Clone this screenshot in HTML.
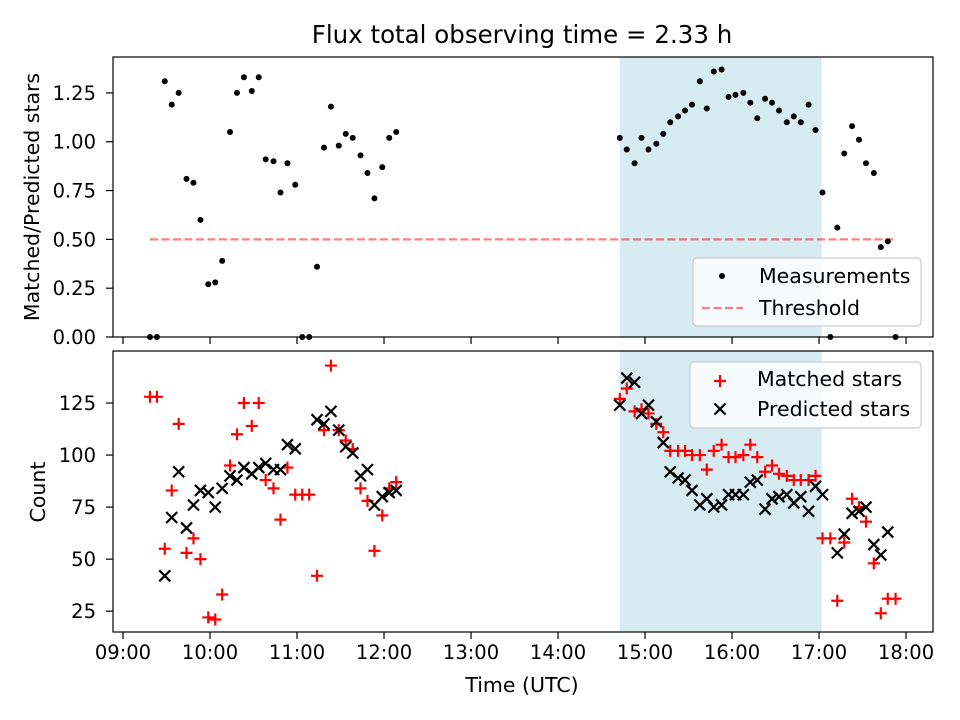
<!DOCTYPE html>
<html><head><meta charset="utf-8"><style>
body{margin:0;background:#fff;}
svg{display:block;font-family:"DejaVu Sans","Liberation Sans",sans-serif;}
</style></head><body>
<svg id="chart" width="960" height="720" viewBox="0 0 960 720" xmlns="http://www.w3.org/2000/svg"></svg>
<script>
// ---- data ----
const times = [9.31,9.39,9.48,9.56,9.64,9.73,9.81,9.89,9.98,10.06,10.14,10.23,10.31,10.39,10.48,10.56,10.64,10.73,10.81,10.89,10.98,11.06,11.14,11.23,11.31,11.39,11.48,11.56,11.64,11.73,11.81,11.89,11.98,12.06,12.14,
14.71,14.79,14.88,14.96,15.04,15.13,15.21,15.29,15.38,15.46,15.54,15.63,15.71,15.79,15.88,15.96,16.04,16.13,16.21,16.29,16.38,16.46,16.54,16.63,16.71,16.79,16.88,16.96,17.04,17.13,17.21,17.29,17.38,17.46,17.54,17.63,17.71,17.79,17.88];
const ratio = [0,0,1.31,1.19,1.25,0.81,0.79,0.60,0.27,0.28,0.39,1.05,1.25,1.33,1.26,1.33,0.91,0.90,0.74,0.89,0.78,0,0,0.36,0.97,1.18,0.98,1.04,1.02,0.93,0.84,0.71,0.87,1.02,1.05,
1.02,0.96,0.89,1.02,0.96,0.99,1.04,1.10,1.13,1.16,1.19,1.31,1.17,1.36,1.37,1.23,1.24,1.25,1.20,1.12,1.22,1.20,1.16,1.10,1.13,1.10,1.19,1.06,0.74,0,0.56,0.94,1.08,1.01,0.89,0.84,0.46,0.49,0];
const matched = [128,128,55,83,115,53,60,50,22,21,33,95,110,125,114,125,88,84,69,94,81,81,81,42,112,143,112,107,103,84,78,54,71,84,87,
127,132,121,122,120,115,111,102,102,102,100,100,93,102,105,99,99,100,105,99,92,95,91,90,88,88,88,90,60,60,30,58,79,75,68,48,24,31,31];
const predicted = [null,null,42,70,92,65,76,83,82,75,84,90,88,94,91,94,96,93,93,105,103,null,null,117,115,121,112,104,101,90,93,76,80,82,83,
124,137,135,120,124,116,106,92,89,88,83,76,79,75,76,81,81,81,87,88,74,79,80,81,77,80,73,85,81,null,53,62,72,73,75,57,52,63,null];
const thresholdValue = 0.5;
const thresholdRange = [9.31, 17.85];
const shadeRange = [14.71, 17.03];
const xTickHours = [9,10,11,12,13,14,15,16,17,18];
const xTickLabels = ["09:00","10:00","11:00","12:00","13:00","14:00","15:00","16:00","17:00","18:00"];
const topTicks = [0,0.25,0.5,0.75,1.0,1.25];
const topTickLabels = ["0.00","0.25","0.50","0.75","1.00","1.25"];
const botTicks = [25,50,75,100,125];
const botTickLabels = ["25","50","75","100","125"];

// ---- axes ----
const L=113,R=933, T1=57,B1=337, T2=351,B2=632;
const xMin=8.885,xMax=18.31;
const X=h=>L+(h-xMin)/(xMax-xMin)*(R-L);
const Y1=v=>B1-(v-0)/(1.434-0)*(B1-T1);
const Y2=v=>B2-(v-15)/(150-15)*(B2-T2);
const svg=document.getElementById('chart');
const NS='http://www.w3.org/2000/svg';
const FS=19.5;
function mk(tag,attrs,parent){const e=document.createElementNS(NS,tag);for(const k in attrs)e.setAttribute(k,attrs[k]);(parent||svg).appendChild(e);return e;}
function txt(s,attrs){const e=mk('text',attrs);e.textContent=s;return e;}

let sh=mk('rect',{x:X(shadeRange[0]),y:T1,width:X(shadeRange[1])-X(shadeRange[0]),height:B1-T1,fill:'#add8e6',opacity:0.5});


sh=mk('rect',{x:X(shadeRange[0]),y:T2,width:X(shadeRange[1])-X(shadeRange[0]),height:B2-T2,fill:'#add8e6',opacity:0.5});



let th=mk('line',{x1:X(thresholdRange[0]),x2:X(thresholdRange[1]),y1:Y1(thresholdValue),y2:Y1(thresholdValue),stroke:'#ff0000','stroke-opacity':0.5,'stroke-width':2.2,'stroke-dasharray':'8,3.5'});



times.forEach((t,i)=>{
  const c=mk('circle',{cx:X(t),cy:Y1(ratio[i]),r:3,fill:'#000'});
  
  
});
times.forEach((t,i)=>{
  const x=X(t),y=Y2(matched[i]),s=6;
  const g=mk('path',{d:`M${x-s},${y}H${x+s}M${x},${y-s}V${y+s}`,stroke:'#ff0000','stroke-width':2.2,fill:'none'});
  
  
});
times.forEach((t,i)=>{
  if(predicted[i]===null)return;
  const x=X(t),y=Y2(predicted[i]),s=5.5;
  const g=mk('path',{d:`M${x-s},${y-s}L${x+s},${y+s}M${x-s},${y+s}L${x+s},${y-s}`,stroke:'#000','stroke-width':2.2,fill:'none'});
  
  
});

[[T1,B1,'top-axes-frame'],[T2,B2,'bottom-axes-frame']].forEach(([t,b,n])=>{
  const r=mk('rect',{x:L,y:t,width:R-L,height:b-t,fill:'none',stroke:'#000','stroke-width':1.2});
  
  
});
xTickHours.forEach((h,i)=>{
  const x=X(h);
  mk('line',{x1:x,x2:x,y1:B1,y2:B1+7,stroke:'#000','stroke-width':1.2});
  mk('line',{x1:x,x2:x,y1:B2,y2:B2+7,stroke:'#000','stroke-width':1.2});
  const l=txt(xTickLabels[i],{x:x,y:B2+27,'text-anchor':'middle','font-size':FS});
  
  
});
topTicks.forEach((v,i)=>{
  const y=Y1(v);
  mk('line',{x1:L-7,x2:L,y1:y,y2:y,stroke:'#000','stroke-width':1.2});
  const l=txt(topTickLabels[i],{x:L-17,y:y+7,'text-anchor':'end','font-size':FS});
  
  
});
botTicks.forEach((v,i)=>{
  const y=Y2(v);
  mk('line',{x1:L-7,x2:L,y1:y,y2:y,stroke:'#000','stroke-width':1.2});
  const l=txt(botTickLabels[i],{x:L-17,y:y+7,'text-anchor':'end','font-size':FS});
  
  
});
</script>
<svg style="position:absolute;left:0;top:0" width="960" height="720" font-family="DejaVu Sans, Liberation Sans, sans-serif">
  <text x="522" y="43" text-anchor="middle" font-size="24.5">Flux total observing time = 2.33 h</text>
  <text transform="translate(39,197) rotate(-90)" text-anchor="middle" font-size="20.5">Matched/Predicted stars</text>
  <text transform="translate(45,492) rotate(-90)" text-anchor="middle" font-size="20.5">Count</text>
  <text x="522" y="692" text-anchor="middle" font-size="20.5">Time (UTC)</text>
  <g>
    <rect x="693" y="258" width="228" height="68" rx="4" fill="#fff" fill-opacity="0.8" stroke="#ccc" stroke-width="1.2"/>
    <circle cx="722" cy="276" r="3" fill="#000"/>
    <text x="759" y="283" font-size="20.5">Measurements</text>
    <line x1="702" x2="743" y1="308" y2="308" stroke="#ff0000" stroke-opacity="0.5" stroke-width="2.2" stroke-dasharray="8,3.5"/>
    <text x="759" y="315" font-size="20.5">Threshold</text>
  </g>
  <g>
    <rect x="690" y="362" width="231" height="66" rx="4" fill="#fff" fill-opacity="0.8" stroke="#ccc" stroke-width="1.2"/>
    <path d="M714,381H726M720,375V387" stroke="#ff0000" stroke-width="2.2"/>
    <text x="757" y="386" font-size="20.5">Matched stars</text>
    <path d="M714.5,403.5L725.5,414.5M714.5,414.5L725.5,403.5" stroke="#000" stroke-width="2.2"/>
    <text x="757" y="416" font-size="20.5">Predicted stars</text>
  </g>
</svg>
</body></html>
